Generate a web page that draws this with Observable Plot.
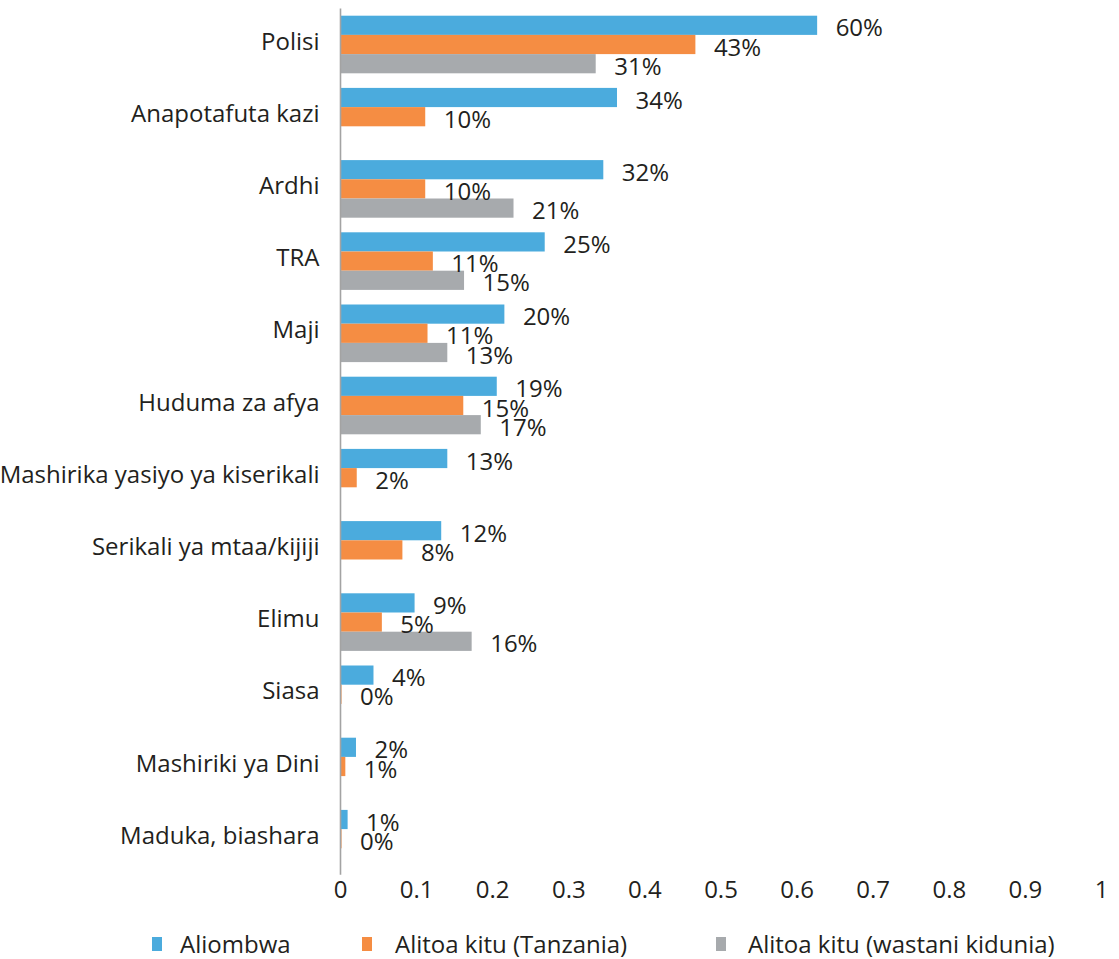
<!DOCTYPE html>
<html><head><meta charset="utf-8">
<script src="https://cdn.jsdelivr.net/npm/d3@7"></script>
<script src="https://cdn.jsdelivr.net/npm/@observablehq/plot@0.6"></script>
<style>
body{margin:0;background:#fff;font-family:"Open Sans",sans-serif;color:#231F20}
#chart{position:relative;width:1119px;height:959px;overflow:hidden}
#legend{position:absolute;top:929px;left:0;width:1119px;height:30px}
.sw{position:absolute;top:8px;width:10px;height:14px}
.lt{position:absolute;top:0;height:30px;line-height:30px;font-size:24px;color:#231F20;white-space:nowrap}
</style></head><body>
<div id="chart"></div>
<script>
const categories = ["Polisi","Anapotafuta kazi","Ardhi","TRA","Maji","Huduma za afya","Mashirika yasiyo ya kiserikali","Serikali ya mtaa/kijiji","Elimu","Siasa","Mashiriki ya Dini","Maduka, biashara"];
const seriesNames = ["Aliombwa","Alitoa kitu (Tanzania)","Alitoa kitu (wastani kidunia)"];
const seriesColors = ["#4BABDD","#F58D43","#A7AAAD"];
// bar lengths as drawn in the picture
const aliombwa = [0.627,0.364,0.346,0.269,0.216,0.206,0.141,0.133,0.098,0.044,0.021,0.010];
const aliombwaLabels = ["60%","34%","32%","25%","20%","19%","13%","12%","9%","4%","2%","1%"];
const tanzania = [0.467,0.112,0.112,0.122,0.115,0.162,0.022,0.082,0.055,0.002,0.007,0.002];
const tanzaniaLabels = ["43%","10%","10%","11%","11%","15%","2%","8%","5%","0%","1%","0%"];
const kidunia = [0.336,null,0.228,0.163,0.141,0.185,null,null,0.173,null,null,null];
const kiduniaLabels = ["31%",null,"21%","15%","13%","17%",null,null,"16%",null,null,null];
const xTicks = [0,0.1,0.2,0.3,0.4,0.5,0.6,0.7,0.8,0.9,1];
const xTickLabels = ["0","0.1","0.2","0.3","0.4","0.5","0.6","0.7","0.8","0.9","1"];

const seriesData = [
  {name: seriesNames[0], values: aliombwa, labels: aliombwaLabels},
  {name: seriesNames[1], values: tanzania, labels: tanzaniaLabels},
  {name: seriesNames[2], values: kidunia, labels: kiduniaLabels}
];
const rowsBySeries = seriesData.map(s => categories.map((c, i) => ({category: c, series: s.name, value: s.values[i], label: s.labels[i]})).filter(d => d.value != null));

const W = 1119, H = 915;
const FS = 24;
const barH = 19.2, step = 72.2;
const inset = (step - barH) / 2;
const offsets = [-barH, 0, barH];

const marks = [];
rowsBySeries.forEach((rows, si) => {
  marks.push(Plot.barX(rows, {x: "value", y: "category", fill: "series", insetTop: inset, insetBottom: inset, dy: offsets[si]}));
});
rowsBySeries.forEach((rows, si) => {
  marks.push(Plot.text(rows, {x: "value", y: "category", text: "label", textAnchor: "start", dx: 18, dy: offsets[si] + 3, fill: "#231F20", fontSize: FS}));
});
marks.push(Plot.ruleX([0], {stroke: "#A3A3A3", strokeWidth: 1.6}));
marks.push(Plot.axisX({ticks: xTicks, tickFormat: d => xTickLabels[xTicks.indexOf(d)], tickSize: 0, tickPadding: 6, fontSize: FS, fill: "#231F20", label: null}));
marks.push(Plot.axisY({tickSize: 0, tickPadding: 21, fontSize: FS, fill: "#231F20", label: null, dy: -3}));

const plot = Plot.plot({
  width: W, height: H,
  marginLeft: 340, marginRight: 18, marginTop: 8.4, marginBottom: H - 874.8,
  style: {fontFamily: "'Open Sans', sans-serif", fontSize: FS + "px", color: "#231F20", background: "#fff", overflow: "visible"},
  x: {domain: [0, 1]},
  y: {domain: categories, padding: 0, round: false},
  color: {domain: seriesNames, range: seriesColors},
  marks
});
const chart = document.getElementById("chart");
chart.appendChild(plot);

const legend = document.createElement("div");
legend.id = "legend";
const swatchLeft = [152, 362, 716];
const textLeft = [180, 395, 748];
seriesNames.forEach((n, i) => {
  const sw = document.createElement("div");
  sw.className = "sw";
  sw.style.left = swatchLeft[i] + "px";
  sw.style.background = seriesColors[i];
  const t = document.createElement("div");
  t.className = "lt";
  t.style.left = textLeft[i] + "px";
  t.textContent = n;
  legend.appendChild(sw); legend.appendChild(t);
});
chart.appendChild(legend);
</script>
</body></html>
